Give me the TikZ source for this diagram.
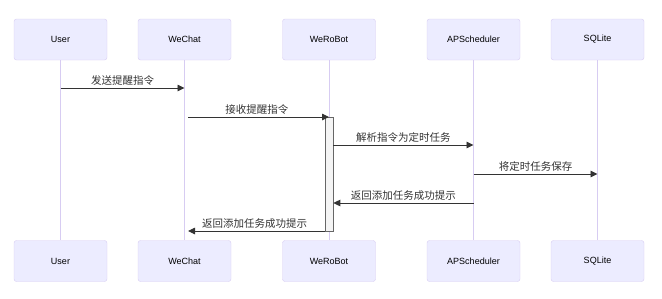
\documentclass[tikz,border=0pt]{standalone}
\usepackage{fontspec}
\setmainfont{Liberation Sans}
\newfontfamily\cjk{Noto Sans CJK SC}
\usepackage{tikz}
\usetikzlibrary{arrows.meta}

\definecolor{actorfill}{HTML}{ECECFF}
\definecolor{actorline}{HTML}{D7CCF2}
\definecolor{msgcolor}{HTML}{333333}
\definecolor{actfill}{HTML}{F4F4F4}
\definecolor{actline}{HTML}{666666}

\begin{document}
\begin{tikzpicture}[x=1pt,y=-1pt,
    actor/.style={draw=actorline, fill=actorfill, rounded corners=2.5pt,
      minimum width=93pt, minimum height=41pt, inner sep=0pt,
      font=\fontsize{9}{11}\selectfont},
    lifeline/.style={draw=actorline, line width=0.9pt},
    activation/.style={draw=actline, fill=actfill, line width=0.6pt,
      minimum width=8pt, inner sep=0pt, anchor=north},
    msg/.style={draw=msgcolor, line width=0.9pt,
      -{Triangle[length=7pt,width=6.5pt]}},
    msglabel/.style={midway, above=1pt, inner sep=1pt, text=msgcolor,
      font=\cjk\fontsize{10.5}{12}\selectfont}]

      % page size
      \useasboundingbox (0,0) rectangle (662,298);

      % actors on top and bottom, joined by their lifelines
      \foreach \name/\x in {User/60.5, WeChat/184.5, WeRoBot/329,
                            APScheduler/473.5, SQLite/597.5} {
        \node[actor] (top-\name) at (\x,39.5) {\name};
        \node[actor] (bot-\name) at (\x,261) {\name};
        \draw[lifeline] (top-\name) -- (bot-\name);
      }

      % activation of WeRoBot
      \node[activation, minimum height=114pt] (act) at (329,117) {};

      % messages
      \draw[msg] (top-User |- 0,88) -- (top-WeChat |- 0,88)
        node[msglabel] {发送提醒指令};
      \draw[msg, shorten <=3.5pt] (top-WeChat |- 0,117) -- (top-WeRoBot |- act.north)
        node[msglabel] {接收提醒指令};
      \draw[msg] (act.east |- 0,145) -- (top-APScheduler |- 0,145)
        node[msglabel] {解析指令为定时任务};
      \draw[msg] (top-APScheduler |- 0,174) -- (top-SQLite |- 0,174)
        node[msglabel] {将定时任务保存};
      \draw[msg] (top-APScheduler |- 0,203) -- (act.east |- 0,203)
        node[msglabel] {返回添加任务成功提示};
      \draw[msg, shorten >=3.5pt] (act.west |- 0,231) -- (top-WeChat |- 0,231)
        node[msglabel] {返回添加任务成功提示};
\end{tikzpicture}
\end{document}
